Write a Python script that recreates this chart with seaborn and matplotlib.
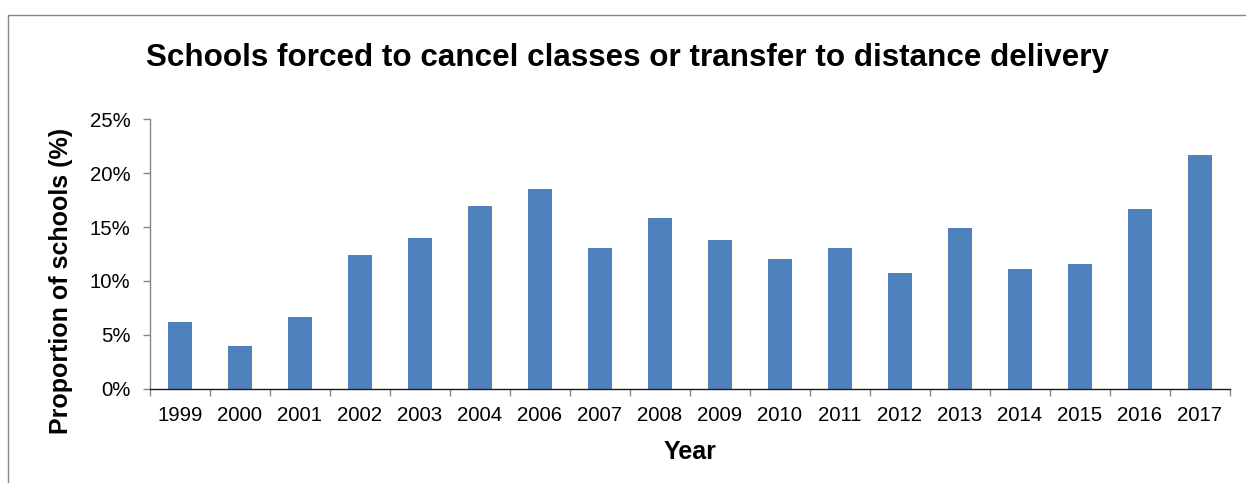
import matplotlib
matplotlib.use("Agg")
import matplotlib.pyplot as plt
from matplotlib.patches import Rectangle
from matplotlib.ticker import FixedLocator, FuncFormatter
import seaborn as sns
import pandas as pd

# Survey years and share of schools affected (%)
years = ["1999", "2000", "2001", "2002", "2003", "2004", "2006", "2007", "2008",
         "2009", "2010", "2011", "2012", "2013", "2014", "2015", "2016", "2017"]
share = [6.2, 4.0, 6.7, 12.4, 14.0, 16.9, 18.5, 13.1, 15.8,
         13.8, 12.0, 13.1, 10.7, 14.9, 11.1, 11.6, 16.7, 21.7]
y_ticks = [0, 5, 10, 15, 20, 25]

title = "Schools forced to cancel classes or transfer to distance delivery"
x_label = "Year"
y_label = "Proportion of schools (%)"

sns.set_theme(style="white")
plt.rcParams["font.family"] = ["Liberation Sans", "DejaVu Sans"]
plt.rcParams["text.color"] = "black"
plt.rcParams["axes.labelcolor"] = "black"

df = pd.DataFrame({"year": years, "share": share})

W, H = 1246, 483
fig = plt.figure(figsize=(W / 100, H / 100), dpi=100)
ax = fig.add_axes([150 / W, (H - 389) / H, 1080 / W, 270 / H])

sns.barplot(data=df, x="year", y="share", color="#4F81BD", saturation=1,
            width=0.4, ax=ax, edgecolor="none")

ax.set_xlim(-0.5, len(years) - 0.5)
ax.set_ylim(0, 25)

# Axis styling
for side in ("top", "right"):
    ax.spines[side].set_visible(False)
ax.spines["left"].set_color("#868686")
ax.spines["left"].set_linewidth(1.0)
ax.spines["bottom"].set_color("#1a1a1a")
ax.spines["bottom"].set_linewidth(1.0)

ax.yaxis.set_major_locator(FixedLocator(y_ticks))
ax.yaxis.set_major_formatter(FuncFormatter(lambda v, p: f"{int(v)}%"))
ax.tick_params(axis="y", which="major", direction="out", length=5, width=1,
               color="#868686", labelsize=14.7, labelcolor="black", pad=9, left=True)

# Category labels at centres, tick marks at category boundaries
ax.tick_params(axis="x", which="major", length=0, labelsize=14.7,
               labelcolor="black", pad=12)
ax.xaxis.set_minor_locator(FixedLocator([i - 0.5 for i in range(len(years) + 1)]))
ax.tick_params(axis="x", which="minor", direction="out", length=5, width=1,
               color="#868686", bottom=True)

ax.set_xlabel(x_label, fontsize=18, fontweight="bold", labelpad=11, color="black")
ax.set_ylabel(y_label, fontsize=18, fontweight="bold", color="black")
ax.yaxis.set_label_coords((73 - 150) / 1080, (389 - 281) / 270)

fig.text(628 / W, (H - 58) / H, title, fontsize=22.6, fontweight="bold",
         ha="center", va="center", color="black")

# Chart-area border
fig.patches.append(Rectangle((8 / W, -0.1), 1.2, (H - 15) / H + 0.1,
                             transform=fig.transFigure, fill=False,
                             edgecolor="#868686", linewidth=1.0))

fig.savefig("out.png", dpi=100)
